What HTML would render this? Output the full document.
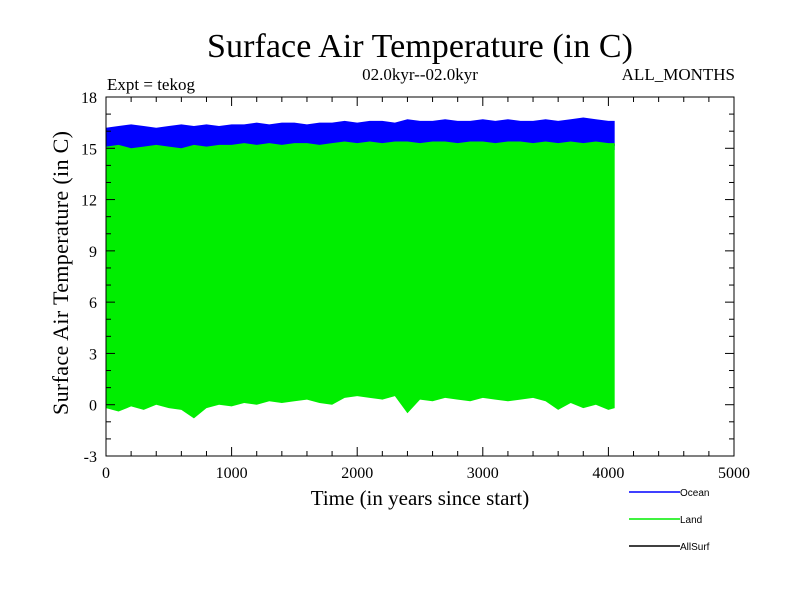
<!DOCTYPE html>
<html><head><meta charset="utf-8"><style>
body{margin:0;background:#fff;width:800px;height:600px;overflow:hidden}
svg text{font-family:"Liberation Serif",serif;fill:#000}
</style></head><body>
<svg width="800" height="600" id="c">
<text x="420" y="57" font-size="34" text-anchor="middle" textLength="426">Surface Air Temperature (in C)</text>
<text x="420" y="80" font-size="17" text-anchor="middle">02.0kyr--02.0kyr</text>
<text x="107" y="90" font-size="17">Expt = tekog</text>
<text x="735" y="80" font-size="17" text-anchor="end">ALL_MONTHS</text>
<g id="plot"></g>
<text x="420" y="505" font-size="21" text-anchor="middle">Time (in years since start)</text>
<text transform="translate(68,273) rotate(-90)" font-size="22" text-anchor="middle" textLength="284">Surface Air Temperature (in C)</text>
</svg>
<script>
const years=[0,100,200,300,400,500,600,700,800,900,1000,1100,1200,1300,1400,1500,1600,1700,1800,1900,2000,2100,2200,2300,2400,2500,2600,2700,2800,2900,3000,3100,3200,3300,3400,3500,3600,3700,3800,3900,4000,4050];
const oceanUpper=[16.2,16.3,16.4,16.3,16.2,16.3,16.4,16.3,16.4,16.3,16.4,16.4,16.5,16.4,16.5,16.5,16.4,16.5,16.5,16.6,16.5,16.6,16.6,16.5,16.7,16.6,16.6,16.7,16.6,16.6,16.7,16.6,16.7,16.6,16.6,16.7,16.6,16.7,16.8,16.7,16.6,16.6];
const landUpper=[15.1,15.2,15.0,15.1,15.2,15.1,15.0,15.2,15.1,15.2,15.2,15.3,15.2,15.3,15.2,15.3,15.3,15.2,15.3,15.4,15.3,15.4,15.3,15.4,15.4,15.3,15.4,15.4,15.3,15.4,15.4,15.3,15.4,15.4,15.3,15.4,15.3,15.4,15.3,15.4,15.3,15.3];
const allSurfLow=[15.0,15.1,14.9,15.0,15.1,15.0,14.9,15.1,15.0,15.1,15.1,15.2,15.1,15.2,15.1,15.2,15.2,15.1,15.2,15.3,15.2,15.3,15.2,15.3,15.3,15.2,15.3,15.3,15.2,15.3,15.3,15.2,15.3,15.3,15.2,15.3,15.2,15.3,15.2,15.3,15.2,15.2];
const landLower=[-0.2,-0.4,-0.1,-0.3,0.0,-0.2,-0.3,-0.8,-0.2,0.0,-0.1,0.1,0.0,0.2,0.1,0.2,0.3,0.1,0.0,0.4,0.5,0.4,0.3,0.5,-0.5,0.3,0.2,0.4,0.3,0.2,0.4,0.3,0.2,0.3,0.4,0.2,-0.3,0.1,-0.2,0.0,-0.3,-0.2];
const xTicks=[0,1000,2000,3000,4000,5000];
const yTicks=[-3,0,3,6,9,12,15,18];
const L=106,R=734,T=97,B=456,X0=0,X1=5000,Y0=-3,Y1=18;
const sx=v=>L+(v-X0)/(X1-X0)*(R-L), sy=v=>B-(v-Y0)/(Y1-Y0)*(B-T);
const NS='http://www.w3.org/2000/svg', g=document.getElementById('plot');
function mk(t,a){const e=document.createElementNS(NS,t);for(const k in a)e.setAttribute(k,a[k]);g.appendChild(e);return e;}
function band(up,lo){let p=years.map((y,i)=>sx(y)+','+sy(up[i]));for(let i=years.length-1;i>=0;i--)p.push(sx(years[i])+','+sy(lo(i)));return p.join(' ');}
let e=mk('polygon',{points:band(oceanUpper,i=>14.9),fill:'#0000ff'});

e=mk('polyline',{points:years.map((y,i)=>sx(y)+','+sy(allSurfLow[i])).join(' '),fill:'none',stroke:'#000','stroke-width':2});

e=mk('polygon',{points:band(landUpper,i=>landLower[i]),fill:'#00ee00'});

e=mk('rect',{x:L,y:T,width:R-L,height:B-T,fill:'none',stroke:'#000','stroke-width':1});

for(let v=X0;v<=X1;v+=200){const maj=v%1000===0,x=sx(v);
mk('line',{x1:x,x2:x,y1:B,y2:B-(maj?9:5),stroke:'#000'});mk('line',{x1:x,x2:x,y1:T,y2:T+(maj?9:5),stroke:'#000'});}
for(let v=Y0;v<=Y1;v+=1){const maj=v%3===0,y=sy(v);
mk('line',{x1:L,x2:L+(maj?9:5),y1:y,y2:y,stroke:'#000'});mk('line',{x1:R,x2:R-(maj?9:5),y1:y,y2:y,stroke:'#000'});}
xTicks.forEach(v=>{const t=mk('text',{x:sx(v),y:B+22,'font-size':16,'text-anchor':'middle'});t.textContent=v;
});
yTicks.forEach(v=>{const t=mk('text',{x:L-9,y:sy(v)+6,'font-size':16,'text-anchor':'end'});t.textContent=v;
});
[['Ocean','#0000ff',492],['Land','#00ee00',519],['AllSurf','#000',546]].forEach(d=>{
const l=mk('line',{x1:629,x2:680,y1:d[2],y2:d[2],stroke:d[1],'stroke-width':1.5});

const t=mk('text',{x:680,y:d[2]+4,'font-size':10,style:'font-family:"Liberation Sans",sans-serif'});t.textContent=d[0];
});
</script>
</body></html>
